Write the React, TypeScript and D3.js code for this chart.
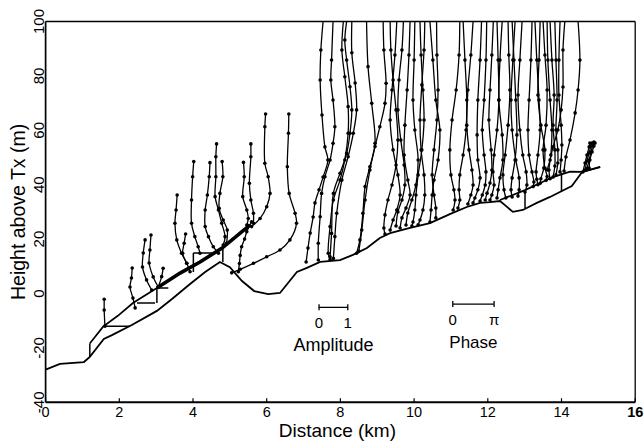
import React from "react";
import * as d3 from "d3";

type P = [number, number];

const xTicks = [0, 2, 4, 6, 8, 10, 12, 14, 16];
const yTicks = [-40, -20, 0, 20, 40, 60, 80, 100];

// ground profile (km, m)
const terrain: P[] = [
  [0, -28], [0.39, -25.9], [1.04, -25.2], [1.2, -23.3], [1.58, -16.7], [1.8, -15.3],
  [2.34, -11.6], [3.02, -6.4], [3.43, -2.0], [3.92, 3.5], [4.33, 7.9], [4.73, 11.6],
  [5.0, 9.7], [5.33, 4.6], [5.66, 0.9], [6.04, -0.2], [6.36, 0.2], [6.82, 7.9],
  [7.09, 9.4], [7.45, 11.6], [7.99, 12.3], [8.34, 14.2], [8.72, 16.7], [9.07, 20.4],
  [9.35, 22.2], [9.89, 24.1], [10.43, 25.9], [10.97, 29.2], [11.43, 31.8], [11.79, 33.3],
  [12.06, 33.6], [12.33, 34.0], [12.49, 32.2], [12.68, 30.0], [12.95, 30.7], [13.33, 33.3],
  [13.69, 35.5], [14.01, 37.7], [14.28, 39.5], [14.56, 44.7], [15.05, 46.5],
];

// line through the lowest points of the profiles
const baseLeft: P[] = [
  [1.2, -18.4], [1.56, -12.2], [1.96, -8.2], [2.37, -3.5], [3.02, 2.0], [3.65, 7.5],
  [4.19, 11.6], [4.79, 16.7], [5.55, 25.2],
];
const baseBand: P[] = [[3.02, 2.0], [3.65, 7.5], [4.19, 11.6], [4.79, 16.7], [5.55, 25.2]];
const baseRight: P[] = [[12.33, 34.4], [13.01, 38.0], [13.77, 42.8], [14.23, 44.8], [14.58, 44.7], [15.05, 46.6]];

// connector segments [km1, m1, km2, m2]
const links: [number, number, number, number][] = [
  [1.2, -23.3, 1.2, -18.4],
  [1.64, -12.0, 2.29, -12.0],
  [2.48, -3.5, 2.97, -3.5],
  [3.02, 2.0, 3.02, -3.5],
  [3.02, 2.0, 3.33, 2.0],
  [4.01, 14.9, 4.01, 7.9],
  [4.01, 14.9, 4.53, 14.9],
  [4.81, 17.1, 4.81, 11.6],
  [13.01, 38.0, 13.01, 31.4],
  [14.0, 44.3, 14.0, 37.7],
];

// height profiles, lowest point first (km, m)
const leftProfiles: P[][] = [
  [[1.61, -12.0], [1.59, -6.1], [1.59, -2.1]],
  [[2.43, -5.3], [2.37, -1.7], [2.29, 2.4], [2.33, 5.7], [2.35, 9.4]],
  [[2.88, 1.3], [2.74, 5.0], [2.63, 9.7], [2.65, 14.9], [2.7, 19.7]],
  [[3.06, 2.4], [2.92, 6.1], [2.81, 11.2], [2.83, 16.0], [2.86, 21.5]],
  [[3.06, 2.5], [3.15, 6.2], [3.19, 9.3]],
  [[3.92, 8.0], [3.83, 11.1], [3.69, 14.8], [3.56, 19.7], [3.51, 25.8], [3.54, 30.7], [3.57, 36.2]],
  [[3.83, 11.1], [3.72, 14.8], [3.76, 18.5], [3.8, 21.9]],
  [[4.19, 14.8], [4.14, 17.2], [4.05, 20.9], [3.96, 25.8], [3.96, 34.4], [3.99, 42.9], [4.02, 48.5]],
  [[4.69, 14.8], [4.55, 17.2], [4.42, 20.9], [4.33, 24.6], [4.33, 30.7], [4.39, 36.2], [4.44, 42.9], [4.46, 48.1]],
  [[4.82, 17.8], [4.87, 20.9], [4.78, 25.8], [4.69, 30.7], [4.6, 35.6], [4.62, 42.9], [4.62, 50.3], [4.64, 55.0]],
  [[4.91, 18.5], [4.93, 23.3], [4.82, 27.0], [4.71, 31.3], [4.73, 36.8], [4.81, 42.9], [4.79, 48.5]],
  [[5.46, 25.2], [5.5, 27.6], [5.46, 30.7], [5.35, 35.6], [5.39, 42.9], [5.37, 48.2]],
  [[5.64, 25.8], [5.64, 29.5], [5.57, 34.4], [5.53, 40.5], [5.57, 50.3], [5.57, 55.0]],
  [[5.59, 24.6], [5.82, 27.6], [6.0, 31.9], [6.09, 36.8], [6.04, 42.9], [5.95, 47.9], [5.95, 61.3], [5.97, 66.0]],
  [[5.05, 7.6], [5.28, 8.9], [5.64, 11.1], [6.0, 13.5], [6.36, 16.0], [6.63, 19.7], [6.81, 25.8], [6.77, 29.5], [6.61, 36.8], [6.56, 46.6], [6.59, 58.9], [6.6, 66.0]],
  [[5.23, 8.0], [5.26, 11.0], [5.28, 14.0], [5.32, 17.2], [5.4, 20.0], [5.46, 22.7], [5.59, 26.4]],
];

const midProfiles: P[][] = [
  [[7.07, 11.6], [7.12, 16.7], [7.18, 22.2], [7.26, 28.1], [7.31, 33.3], [7.42, 38.1], [7.53, 42.8], [7.66, 49.1], [7.58, 53.9], [7.5, 65.6], [7.45, 78.5], [7.47, 89.5], [7.53, 100]],
  [[7.4, 12.3], [7.4, 18.5], [7.45, 28.2], [7.49, 36.8], [7.58, 42.9], [7.72, 49.1], [7.8, 55.2], [7.85, 61.3], [7.8, 71.1], [7.74, 78.5], [7.76, 85.8], [7.8, 100]],
  [[7.72, 12.5], [7.67, 14.8], [7.72, 24.6], [7.81, 34.4], [7.99, 41.7], [8.12, 49.1], [8.21, 58.9], [8.21, 68.7], [8.12, 79.7], [8.04, 89.5], [8.08, 100]],
  [[7.72, 13.5], [7.76, 22.1], [7.81, 36.8], [7.99, 44.2], [8.17, 51.5], [8.26, 58.9], [8.31, 67.5], [8.26, 76.0], [8.17, 85.8], [8.12, 93.2], [8.17, 100]],
  [[7.81, 12.9], [7.85, 20.9], [7.9, 29.5], [8.04, 41.7], [8.21, 50.3], [8.35, 58.9], [8.44, 67.5], [8.4, 77.4], [8.31, 88.5], [8.31, 100]],
  [[8.44, 14.8], [8.53, 19.7], [8.61, 29.5], [8.67, 39.3], [8.8, 46.6], [8.94, 55.2], [8.85, 69.9], [8.75, 83.4], [8.71, 100]],
  [[8.5, 15.5], [8.58, 23.3], [8.67, 34.4], [8.8, 45.4], [8.94, 54.0], [9.07, 61.3], [9.21, 69.9], [9.24, 77.3], [9.18, 89.5], [9.16, 100]],
  [[9.21, 21.9], [9.18, 24.1], [9.21, 28.9], [9.29, 34.4], [9.4, 39.9], [9.51, 47.2], [9.56, 56.4], [9.51, 67.5], [9.43, 78.5], [9.37, 89.5], [9.35, 100]],
  [[9.35, 23.3], [9.43, 27.0], [9.53, 30.7], [9.62, 36.2], [9.56, 43.6], [9.43, 52.8], [9.35, 63.8], [9.4, 74.8], [9.48, 87.7], [9.53, 100]],
  [[9.51, 24.8], [9.56, 30.0], [9.67, 34.4], [9.75, 39.9], [9.73, 47.2], [9.64, 56.4], [9.56, 67.5], [9.59, 78.5], [9.67, 89.5], [9.71, 100]],
  [[9.62, 24.1], [9.67, 27.8], [9.78, 31.4], [9.89, 36.2], [9.83, 41.7], [9.73, 50.9], [9.75, 61.9], [9.81, 74.8], [9.86, 87.7], [9.89, 100]],
  [[9.78, 25.2], [9.83, 29.6], [9.94, 34.4], [10.05, 39.9], [10.11, 49.1], [10.02, 60.1], [9.97, 71.1], [10.0, 85.8], [10.02, 100]],
  [[9.94, 24.8], [9.97, 26.3], [10.02, 30.7], [10.05, 36.2], [10.11, 43.6], [10.21, 52.8], [10.27, 63.8], [10.24, 74.8], [10.19, 87.7], [10.16, 100]],
  [[10.11, 25.3], [10.16, 27.0], [10.24, 30.7], [10.29, 36.2], [10.27, 43.6], [10.19, 52.8], [10.16, 63.8], [10.21, 76.7], [10.27, 89.5], [10.29, 100]],
  [[10.43, 26.3], [10.46, 30.7], [10.49, 36.2], [10.54, 41.7], [10.65, 49.1], [10.7, 60.1], [10.59, 71.1], [10.51, 85.8], [10.43, 100]],
  [[10.59, 27.8], [10.59, 31.4], [10.54, 36.2], [10.49, 43.6], [10.54, 52.8], [10.62, 63.8], [10.65, 74.8], [10.62, 87.7], [10.61, 100]],
  [[11.06, 30.7], [11.11, 34.4], [11.08, 38.1], [11.0, 43.6], [10.97, 52.8], [11.03, 63.8], [11.14, 74.8], [11.22, 87.7], [11.24, 100]],
  [[11.19, 31.4], [11.24, 34.4], [11.22, 38.1], [11.24, 43.6], [11.33, 50.9], [11.41, 60.1], [11.43, 71.1], [11.38, 85.8], [11.33, 100]],
  [[11.46, 32.9], [11.54, 36.2], [11.6, 39.9], [11.57, 45.4], [11.49, 52.8], [11.43, 61.9], [11.46, 74.8], [11.54, 87.7], [11.6, 100]],
  [[11.6, 33.3], [11.65, 35.1], [11.73, 38.1], [11.79, 42.5], [11.73, 49.1], [11.71, 58.3], [11.73, 71.1], [11.79, 85.8], [11.83, 100]],
  [[11.79, 34.0], [11.85, 36.2], [11.93, 39.9], [11.95, 44.7], [11.9, 50.9], [11.85, 60.1], [11.9, 71.1], [11.95, 85.8], [11.97, 100]],
  [[11.93, 34.4], [11.98, 36.9], [12.06, 40.6], [12.11, 45.4], [12.09, 52.8], [12.03, 63.8], [12.06, 74.8], [12.11, 87.7], [12.15, 100]],
  [[12.06, 34.4], [12.11, 36.2], [12.17, 39.9], [12.14, 44.7], [12.17, 50.9], [12.25, 60.1], [12.3, 71.1], [12.28, 85.8], [12.25, 100]],
  [[12.25, 35.1], [12.28, 38.1], [12.33, 42.5], [12.41, 49.1], [12.39, 58.3], [12.3, 71.1], [12.33, 85.8], [12.39, 100]],
];

const rightProfiles: P[][] = [
  [[12.49, 35.1], [12.44, 38.1], [12.41, 43.6], [12.47, 50.9], [12.55, 61.9], [12.6, 74.8], [12.57, 87.7], [12.55, 100]],
  [[12.66, 35.5], [12.63, 38.1], [12.66, 42.5], [12.74, 49.1], [12.79, 58.3], [12.76, 71.1], [12.71, 85.8], [12.66, 100]],
  [[12.82, 35.8], [12.85, 38.1], [12.85, 42.5], [12.76, 49.1], [12.66, 60.1], [12.63, 71.1], [12.68, 85.8], [12.74, 100]],
  [[13.01, 37.3], [13.06, 39.9], [13.04, 44.7], [12.95, 50.9], [12.87, 60.1], [12.82, 73.0], [12.87, 85.8], [12.93, 100]],
  [[13.23, 39.3], [13.25, 41.0], [13.2, 44.7], [13.12, 50.9], [13.09, 60.1], [13.12, 71.1], [13.17, 85.8], [13.2, 100]],
  [[13.36, 40.0], [13.33, 42.0], [13.31, 44.7], [13.36, 50.9], [13.42, 60.1], [13.39, 71.1], [13.33, 85.8], [13.28, 100]],
  [[13.42, 40.5], [13.44, 42.2], [13.52, 46.1], [13.55, 52.8], [13.44, 61.9], [13.36, 73.0], [13.39, 85.8], [13.42, 100]],
  [[13.58, 41.6], [13.61, 43.0], [13.55, 46.1], [13.5, 52.8], [13.58, 61.9], [13.61, 74.8], [13.55, 87.7], [13.5, 100]],
  [[13.69, 42.2], [13.66, 45.4], [13.71, 50.9], [13.74, 60.1], [13.69, 71.1], [13.63, 85.8], [13.61, 100]],
  [[13.77, 42.8], [13.82, 46.9], [13.82, 52.8], [13.77, 61.9], [13.8, 73.0], [13.74, 85.8], [13.69, 100]],
  [[13.85, 43.6], [13.9, 48.0], [13.9, 52.8], [13.85, 60.1], [13.88, 71.1], [13.85, 85.8], [13.82, 100]],
  [[13.96, 44.7], [13.99, 49.1], [14.01, 54.6], [13.99, 61.9], [13.93, 73.0], [13.93, 85.8], [13.96, 100]],
  [[13.61, 45.4], [13.69, 49.1], [13.77, 53.9], [13.9, 60.1], [13.99, 67.5], [14.04, 75.9], [14.04, 89.5], [14.09, 100]],
  [[14.07, 45.0], [14.12, 50.2], [14.23, 56.4], [14.37, 66.4], [14.45, 74.8], [14.5, 85.8], [14.45, 100]],
];

const endProfiles: P[][] = [
  [[14.58, 44.7], [14.64, 48.0], [14.69, 50.9], [14.75, 53.9], [14.77, 55.3]],
  [[14.64, 45.4], [14.69, 48.7], [14.75, 51.7], [14.8, 54.2], [14.83, 55.3]],
  [[14.69, 45.8], [14.75, 49.1], [14.8, 52.0], [14.85, 54.6], [14.88, 55.7]],
  [[14.75, 46.1], [14.77, 49.1], [14.83, 52.0], [14.88, 54.2], [14.91, 55.3]],
];

// scale bars: [start km, end km, height m]
const amplitudeBar = [7.42, 8.2, -5.1];
const amplitudeLabels = ["0", "1"];
const phaseBar = [11.05, 12.17, -3.9];
const phaseLabels = ["0", "\u03c0"];

const FONT = "'Liberation Sans', Arial, Helvetica, sans-serif";

export default function App() {
  const W = 644;
  const H = 441;
  const x = d3.scaleLinear().domain([0, 16]).range([45.6, 635.2]);
  const y = d3.scaleLinear().domain([-40, 100]).range([402.3, 21.5]);
  const smooth = d3
    .line<P>()
    .x((d) => x(d[0]))
    .y((d) => y(d[1]))
    .curve(d3.curveCatmullRom.alpha(0.5));
  const straight = d3
    .line<P>()
    .x((d) => x(d[0]))
    .y((d) => y(d[1]));

  const profiles = [...leftProfiles, ...midProfiles, ...rightProfiles, ...endProfiles];
  const x0 = x(0), x1 = x(16), yTop = y(100), yBot = y(-40);

  const bar = (b: number[], labels: string[], title: string, key: string, titleSize: number) => {
    const xa = x(b[0]), xb = x(b[1]), yy = y(b[2]);
    return (
      <g key={key}>
        <line x1={xa} x2={xb} y1={yy} y2={yy} stroke="#000" strokeWidth={1.3} />
        <line x1={xa} x2={xa} y1={yy - 3} y2={yy + 3} stroke="#000" strokeWidth={1.3} />
        <line x1={xb} x2={xb} y1={yy - 3} y2={yy + 3} stroke="#000" strokeWidth={1.3} />
        <text x={xa} y={yy + 21} fontSize={15} textAnchor="middle">{labels[0]}</text>
        <text x={xb} y={yy + 21} fontSize={15} textAnchor="middle">{labels[1]}</text>
        <text x={(xa + xb) / 2} y={yy + 44} fontSize={titleSize} textAnchor="middle">{title}</text>
      </g>
    );
  };

  return (
    <svg
      width={W}
      height={H}
      style={{ position: "absolute", left: 0, top: 0, background: "#fff" }}
      fontFamily={FONT}
    >
      <defs>
        <clipPath id="plotArea">
          <rect x={x0} y={yTop} width={x1 - x0} height={yBot - yTop} />
        </clipPath>
      </defs>
      <rect x={0} y={0} width={W} height={H} fill="#fff" />
      <g clipPath="url(#plotArea)">
        <path d={straight(terrain) || ""} fill="none" stroke="#000" strokeWidth={1.8} />
        <path d={straight(baseLeft) || ""} fill="none" stroke="#000" strokeWidth={1.7} />
        <path d={straight(baseBand) || ""} fill="none" stroke="#000" strokeWidth={3.6} />
        <path d={straight(baseRight) || ""} fill="none" stroke="#000" strokeWidth={1.7} />
        {links.map((l, i) => (
          <line key={"l" + i} x1={x(l[0])} y1={y(l[1])} x2={x(l[2])} y2={y(l[3])} stroke="#000" strokeWidth={1.5} />
        ))}
        {profiles.map((p, i) => (
          <g key={"p" + i}>
            <path d={smooth(p) || ""} fill="none" stroke="#000" strokeWidth={1.3} />
            {p
              .filter((d) => d[1] < 99)
              .map((d, j) => (
                <circle key={j} cx={x(d[0])} cy={y(d[1])} r={1.8} fill="#000" />
              ))}
          </g>
        ))}
      </g>
      {/* frame */}
      <line x1={x0} x2={x1} y1={yTop} y2={yTop} stroke="#000" strokeWidth={1.6} />
      <line x1={x1} x2={x1} y1={yTop} y2={yBot} stroke="#000" strokeWidth={1.3} />
      <line x1={x0} x2={x0} y1={yTop} y2={yBot} stroke="#000" strokeWidth={1.7} />
      <line x1={x0} x2={x1} y1={yBot} y2={yBot} stroke="#000" strokeWidth={1.9} />
      {xTicks.map((t) => (
        <g key={"xt" + t}>
          <line x1={x(t)} x2={x(t)} y1={yBot} y2={yBot - 4} stroke="#000" strokeWidth={1.2} />
          <text x={x(t)} y={417} fontSize={14.5} textAnchor="middle" fontWeight={t === 16 ? "bold" : "normal"}>
            {t}
          </text>
        </g>
      ))}
      {yTicks.map((t) => (
        <text key={"yt" + t} transform={`translate(43.5,${y(t)}) rotate(-90)`} fontSize={15} textAnchor="middle">
          {t}
        </text>
      ))}
      <text x={(x0 + x1) / 2 - 3} y={437} fontSize={19} textAnchor="middle">Distance (km)</text>
      <text transform={`translate(25,${(yTop + yBot) / 2}) rotate(-90)`} fontSize={19.5} textAnchor="middle">
        Height above Tx (m)
      </text>
      {bar(amplitudeBar, amplitudeLabels, "Amplitude", "amp", 18)}
      {bar(phaseBar, phaseLabels, "Phase", "ph", 17)}
    </svg>
  );
}
